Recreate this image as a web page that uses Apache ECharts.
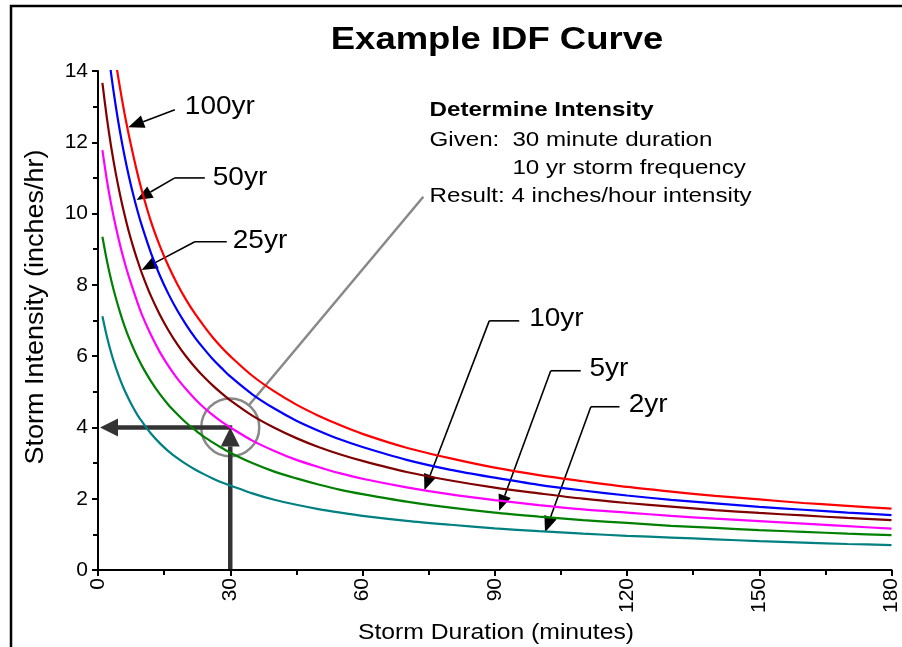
<!DOCTYPE html>
<html>
<head>
<meta charset="utf-8">
<script src="https://cdn.jsdelivr.net/npm/echarts@6/dist/echarts.min.js"></script>
<style>
html,body{margin:0;padding:0;background:#fff;}
#chart{width:902px;height:647px;}
</style>
</head>
<body>
<div id="chart"></div>
<script>
// ---- data ----
const durations = [1,2,3,4,5,6,7,8,9,10,12,14,16,18,20,22,24,26,28,30,35,40,45,50,55,60,70,80,90,100,110,120,130,140,150,160,170,180];
const yr100 = [17.58,16.31,15.22,14.29,13.52,12.82,12.20,11.63,11.10,10.62,9.78,9.10,8.52,8.02,7.58,7.19,6.85,6.53,6.25,6.00,5.45,5.01,4.64,4.33,4.06,3.82,3.43,3.13,2.87,2.66,2.49,2.33,2.20,2.08,1.98,1.88,1.80,1.72];
const yr50  = [16.07,14.90,13.90,13.04,12.29,11.63,11.05,10.53,10.06,9.64,8.90,8.27,7.74,7.28,6.88,6.52,6.21,5.92,5.67,5.43,4.93,4.53,4.19,3.91,3.66,3.45,3.09,2.81,2.59,2.39,2.23,2.09,1.97,1.87,1.77,1.69,1.61,1.54];
const yr25  = [13.67,12.69,11.86,11.15,10.53,9.98,9.49,9.06,8.67,8.31,7.69,7.17,6.72,6.33,5.99,5.69,5.42,5.18,4.96,4.76,4.33,3.99,3.70,3.45,3.24,3.06,2.75,2.51,2.31,2.15,2.00,1.88,1.78,1.68,1.60,1.53,1.46,1.40];
const yr10  = [11.78,10.95,10.25,9.65,9.12,8.65,8.23,7.85,7.49,7.15,6.60,6.12,5.72,5.37,5.07,4.80,4.56,4.35,4.16,4.00,3.63,3.34,3.09,2.89,2.71,2.56,2.32,2.12,1.96,1.82,1.70,1.61,1.52,1.44,1.37,1.30,1.23,1.16];
const yr5   = [9.35,8.69,8.13,7.65,7.23,6.85,6.52,6.23,5.96,5.72,5.30,4.94,4.63,4.37,4.13,3.93,3.74,3.58,3.43,3.29,3.00,2.76,2.57,2.40,2.25,2.13,1.92,1.75,1.61,1.50,1.40,1.32,1.24,1.18,1.12,1.07,1.02,0.98];
const yr2   = [7.12,6.56,6.09,5.69,5.35,5.05,4.79,4.55,4.34,4.16,3.83,3.56,3.33,3.14,2.97,2.82,2.69,2.57,2.46,2.37,2.15,1.97,1.83,1.71,1.61,1.52,1.38,1.27,1.17,1.09,1.02,0.96,0.91,0.86,0.81,0.77,0.73,0.70];

const seriesNames  = ['100yr','50yr','25yr','10yr','5yr','2yr'];
const seriesValues = [yr100, yr50, yr25, yr10, yr5, yr2];
const seriesColors = ['#ff0000','#0000ff','#800000','#ff00ff','#008000','#008080'];

const xTicks = {min:0, max:180, interval:30};
const yTicks = {min:0, max:14, interval:2};

// label annotations in data units: text anchor + leader path (last point = arrow tip)
const labelNotes = [
  {label:'100yr', text:[19.7,12.99], path:[[17.43,12.91],[6.86,12.42]]},
  {label:'50yr',  text:[26.04,11.0], path:[[24.23,11.0],[17.43,11.0],[8.76,10.38]]},
  {label:'25yr',  text:[30.57,9.23], path:[[29.21,9.21],[21.96,9.21],[9.89,8.42]]},
  {label:'10yr',  text:[97.8,7.04],  path:[[95.55,6.99],[88.75,6.99],[74.04,2.24]]},
  {label:'5yr',   text:[111.5,5.64], path:[[109.5,5.59],[102.7,5.59],[91.0,1.66]]},
  {label:'2yr',   text:[120.4,4.63], path:[[118.3,4.58],[111.8,4.58],[101.4,1.06]]}
];
const exampleDuration = 30, exampleIntensity = 4;
const leaderEnd = [73.8, 10.47];
const infoLines = [
  {text:'Determine Intensity', at:[75.2,12.9], bold:true},
  {text:'Given:', at:[75.2,12.06]},
  {text:'30 minute duration', at:[94.0,12.06]},
  {text:'10 yr storm frequency', at:[94.0,11.27]},
  {text:'Result: 4 inches/hour intensity', at:[75.2,10.49]}
];

const FONT = '"Liberation Sans", Arial, Helvetica, sans-serif';
const chart = echarts.init(document.getElementById('chart'), null, {renderer:'canvas'});

const series = seriesNames.map((n,i)=>({
  name:n, type:'line', showSymbol:false, smooth:0.3, clip:true,
  lineStyle:{color:seriesColors[i], width:2.2}, itemStyle:{color:seriesColors[i]},
  data: durations.map((d,j)=>[d, seriesValues[i][j]]), silent:true
}));

const axisCommon = {
  type:'value',
  axisLine:{show:true, lineStyle:{color:'#000', width:2}},
  axisTick:{show:true, inside:false, length:6, lineStyle:{color:'#000', width:2}},
  minorTick:{show:true, splitNumber:2, length:5, lineStyle:{color:'#000', width:2}},
  splitLine:{show:false},
  axisLabel:{color:'#000', fontSize:21, fontFamily:FONT}
};

chart.setOption({
  animation:false,
  backgroundColor:'#fff',
  grid:{left:98, right:9, top:71, bottom:77, containLabel:false},
  xAxis: Object.assign({}, axisCommon, {min:xTicks.min, max:xTicks.max, interval:xTicks.interval,
    axisLabel:Object.assign({}, axisCommon.axisLabel, {rotate:90, margin:8})}),
  yAxis: Object.assign({}, axisCommon, {min:yTicks.min, max:yTicks.max, interval:yTicks.interval,
    axisLabel:Object.assign({}, axisCommon.axisLabel, {margin:10})}),
  series: series
});

function P(p){ return chart.convertToPixel({gridIndex:0}, p); }
function arrow(from, tip, L, W, color, lw){
  const dx = tip[0]-from[0], dy = tip[1]-from[1];
  const len = Math.sqrt(dx*dx+dy*dy);
  const ux = dx/len, uy = dy/len;
  const bx = tip[0]-ux*L, by = tip[1]-uy*L;
  const nx = -uy, ny = ux;
  return {
    line:{type:'line', shape:{x1:from[0], y1:from[1], x2:bx, y2:by}, style:{stroke:color, lineWidth:lw}, silent:true},
    head:{type:'polygon', shape:{points:[[tip[0],tip[1]],[bx+nx*W, by+ny*W],[bx-nx*W, by-ny*W]]}, style:{fill:color}, silent:true}
  };
}
function txt(text, x, y, size, opts){
  opts = opts || {};
  return {type:'text', x:x, y:y, rotation:opts.rotation||0, scaleX:opts.scaleX||1, scaleY:opts.scaleY||1, silent:true,
    style:{text:text, font:(opts.bold?'bold ':'')+size+'px '+FONT, fill:'#000',
      textAlign:opts.align||'left', align:opts.align||'left', textVerticalAlign:'middle', verticalAlign:'middle'}};
}

const g = [];
// frame
g.push({type:'polyline', shape:{points:[[11,647],[11,6],[902,6]]}, style:{stroke:'#000', lineWidth:2.5, fill:null}, silent:true});
// title and axis titles
g.push(txt('Example IDF Curve', 497, 40, 32, {bold:true, align:'center', scaleX:1.14}));
g.push(txt('Storm Duration (minutes)', 496, 633, 21.5, {align:'center', scaleX:1.15}));
g.push(txt('Storm Intensity (inches/hr)', 36, 307, 27, {align:'center', rotation:Math.PI/2, scaleY:0.95}));

// label leaders
labelNotes.forEach(n=>{
  const pts = n.path.map(P);
  if (pts.length > 2) {
    g.push({type:'polyline', shape:{points:pts.slice(0, pts.length-1)}, style:{stroke:'#000', lineWidth:1.6, fill:null}, silent:true});
  }
  const a = arrow(pts[pts.length-2], pts[pts.length-1], 16, 6.5, '#000', 1.6);
  g.push(a.line, a.head);
  const tp = P(n.text);
  g.push(txt(n.label, tp[0], tp[1], 25, {scaleX:1.12}));
});

// worked example: circle, leader, arrows
const c = P([exampleDuration, exampleIntensity]);
const le = P(leaderEnd);
const ddx = le[0]-c[0], ddy = le[1]-c[1], dl = Math.sqrt(ddx*ddx+ddy*ddy);
const R = 29;
g.push({type:'line', shape:{x1:c[0]+ddx/dl*R, y1:c[1]+ddy/dl*R, x2:le[0], y2:le[1]}, style:{stroke:'#888', lineWidth:2.5}, silent:true});
g.push({type:'circle', shape:{cx:c[0], cy:c[1], r:R}, style:{stroke:'#888', lineWidth:2.5, fill:null}, silent:true});
const base = P([exampleDuration, 0]);
const yEdge = P([0, exampleIntensity]);
const a1 = arrow(c, [yEdge[0]+2, yEdge[1]], 18, 9, '#333', 4.5);
const a2 = arrow(base, c, 19, 9.5, '#333', 4.5);
g.push({type:'line', shape:{x1:c[0]+2, y1:c[1], x2:a1.line.shape.x2, y2:a1.line.shape.y2}, style:{stroke:'#333', lineWidth:4.5}, silent:true});
g.push(a1.head, a2.line, a2.head);

// info block
infoLines.forEach(l=>{
  const p = P(l.at);
  g.push(txt(l.text, p[0], p[1], 21, {bold:l.bold, scaleX:1.15}));
});

chart.setOption({graphic:{elements:g}});
</script>
</body>
</html>
